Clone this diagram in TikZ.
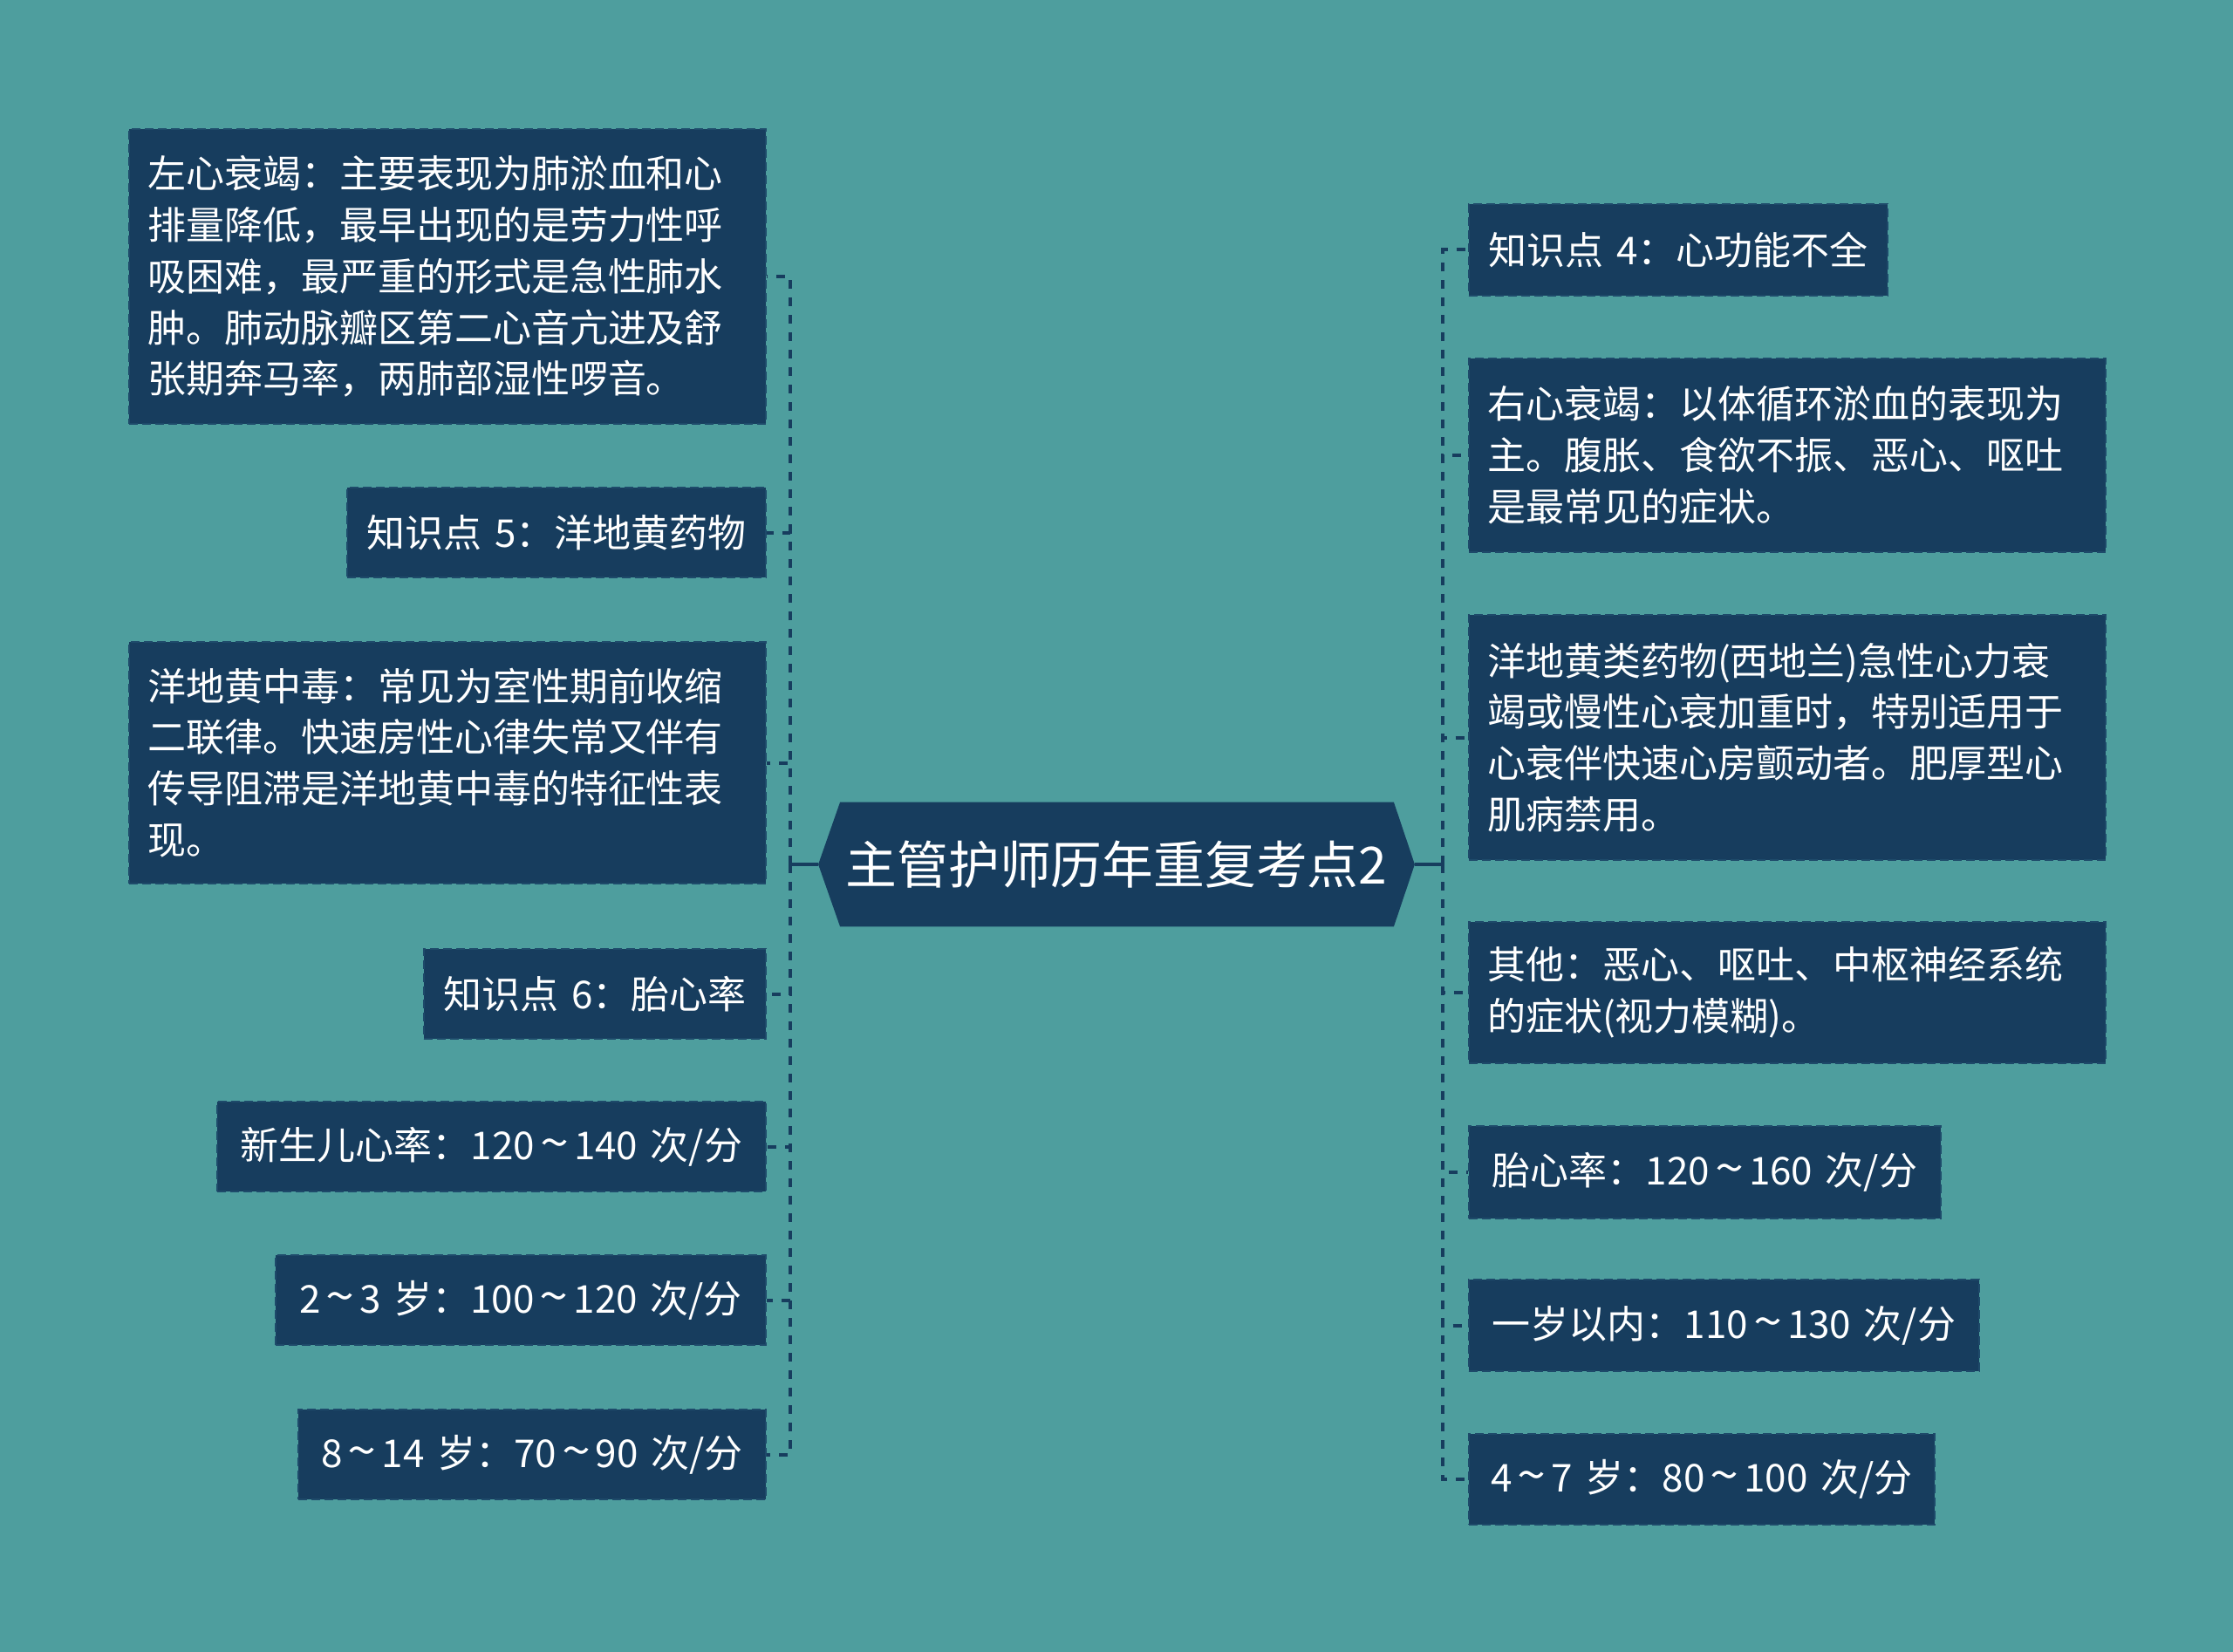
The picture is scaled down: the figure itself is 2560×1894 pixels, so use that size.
\documentclass[tikz,border=0pt]{standalone}
\usepackage{fontspec}
\usepackage{graphicx}
\setmainfont{Noto Sans CJK SC}
\definecolor{bg}{HTML}{4E9E9E}
\definecolor{boxc}{HTML}{173D5E}
\definecolor{boxline}{HTML}{1E4A6A}
\definecolor{conn}{HTML}{173D5E}
\newcommand\tld{\kern3pt\raisebox{0pt}{\scalebox{1.35}[1.2]{\textasciitilde}}\kern3pt}
\tikzset{
  mbox/.style={fill=boxc, draw=boxline, dashed, dash pattern=on 5pt off 2.5pt, line width=1pt,
    text=white, anchor=north west, inner xsep=10.5pt, inner ysep=3pt,
    font=\fontsize{22pt}{29.4pt}\selectfont, align=left},
  sbox/.style={mbox, align=center},
  link/.style={draw=conn, line width=2pt, dash pattern=on 5pt off 5pt},
  stub/.style={draw=conn, line width=2pt}
}
\begin{document}
\begin{tikzpicture}[x=0.5pt,y=-0.5pt]
\useasboundingbox (0,0) rectangle (2560,1894);
\fill[bg] (0,0) rectangle (2560,1894);

% centre
\node[minimum width=341.5pt, minimum height=71pt, inner sep=0pt] (c) at (1280,991) {};
\fill[boxc] (c.west) -- ([xshift=12.5pt]c.north west) -- ([xshift=-12pt]c.north east) -- (c.east)
  -- ([xshift=-12pt]c.south east) -- ([xshift=12.5pt]c.south west) -- cycle;
\node[text=white, font=\fontsize{29.4pt}{34pt}\selectfont, inner sep=0pt] (ct) at (c.center) {主管护师历年重复考点2};

% left boxes
\node[mbox, text width=344pt, minimum height=169pt] (L1) at (147,147)
 {左心衰竭：主要表现为肺淤血和心\\排量降低，最早出现的是劳力性呼\\吸困难，最严重的形式是急性肺水\\肿。肺动脉瓣区第二心音亢进及舒\\张期奔马率，两肺部湿性啰音。};
\node[sbox, text width=219pt, minimum height=51.5pt] (L2) at (397,558) {知识点 5：洋地黄药物};
\node[mbox, text width=344pt, minimum height=138.5pt] (L3) at (147,735)
 {洋地黄中毒：常见为室性期前收缩\\二联律。快速房性心律失常又伴有\\传导阻滞是洋地黄中毒的特征性表\\现。};
\node[sbox, text width=175pt, minimum height=51.5pt] (L4) at (485,1087) {知识点 6：胎心率};
\node[sbox, text width=293.5pt, minimum height=51.5pt] (L5) at (248,1262) {新生儿心率：120\tld140 次/分};
\node[sbox, text width=260pt, minimum height=51.5pt] (L6) at (315,1438) {2\tld3 岁：100\tld120 次/分};
\node[sbox, text width=247pt, minimum height=51.5pt] (L7) at (341,1615) {8\tld14 岁：70\tld90 次/分};

% right boxes
\node[sbox, text width=219pt, minimum height=52.5pt] (R1) at (1683,233) {知识点 4：心功能不全};
\node[mbox, text width=344pt, minimum height=111pt] (R2) at (1683,410)
 {右心衰竭：以体循环淤血的表现为\\主。腹胀、食欲不振、恶心、呕吐\\是最常见的症状。};
\node[mbox, text width=344pt, minimum height=140.5pt] (R3) at (1683,704)
 {洋地黄类药物(西地兰)急性心力衰\\竭或慢性心衰加重时，特别适用于\\心衰伴快速心房颤动者。肥厚型心\\肌病禁用。};
\node[mbox, text width=344pt, minimum height=81pt] (R4) at (1683,1056)
 {其他：恶心、呕吐、中枢神经系统\\的症状(视力模糊)。};
\node[sbox, text width=249.5pt, minimum height=53pt] (R5) at (1683,1290) {胎心率：120\tld160 次/分};
\node[sbox, text width=271.5pt, minimum height=52.5pt] (R6) at (1683,1466) {一岁以内：110\tld130 次/分};
\node[sbox, text width=246pt, minimum height=52pt] (R7) at (1683,1643) {4\tld7 岁：80\tld100 次/分};

% connectors
\coordinate (jl) at (906,991);
\coordinate (jr) at (1654,991);
\draw[stub] (c.west) -- (jl);
\draw[stub] (c.east) -- (jr);
\foreach \n in {L1,L2,L3,L4,L5,L6,L7} { \draw[link] (jl) |- (\n.east); }
\foreach \n in {R1,R2,R3,R4,R5,R6,R7} { \draw[link] (jr) |- (\n.west); }
\end{tikzpicture}
\end{document}
